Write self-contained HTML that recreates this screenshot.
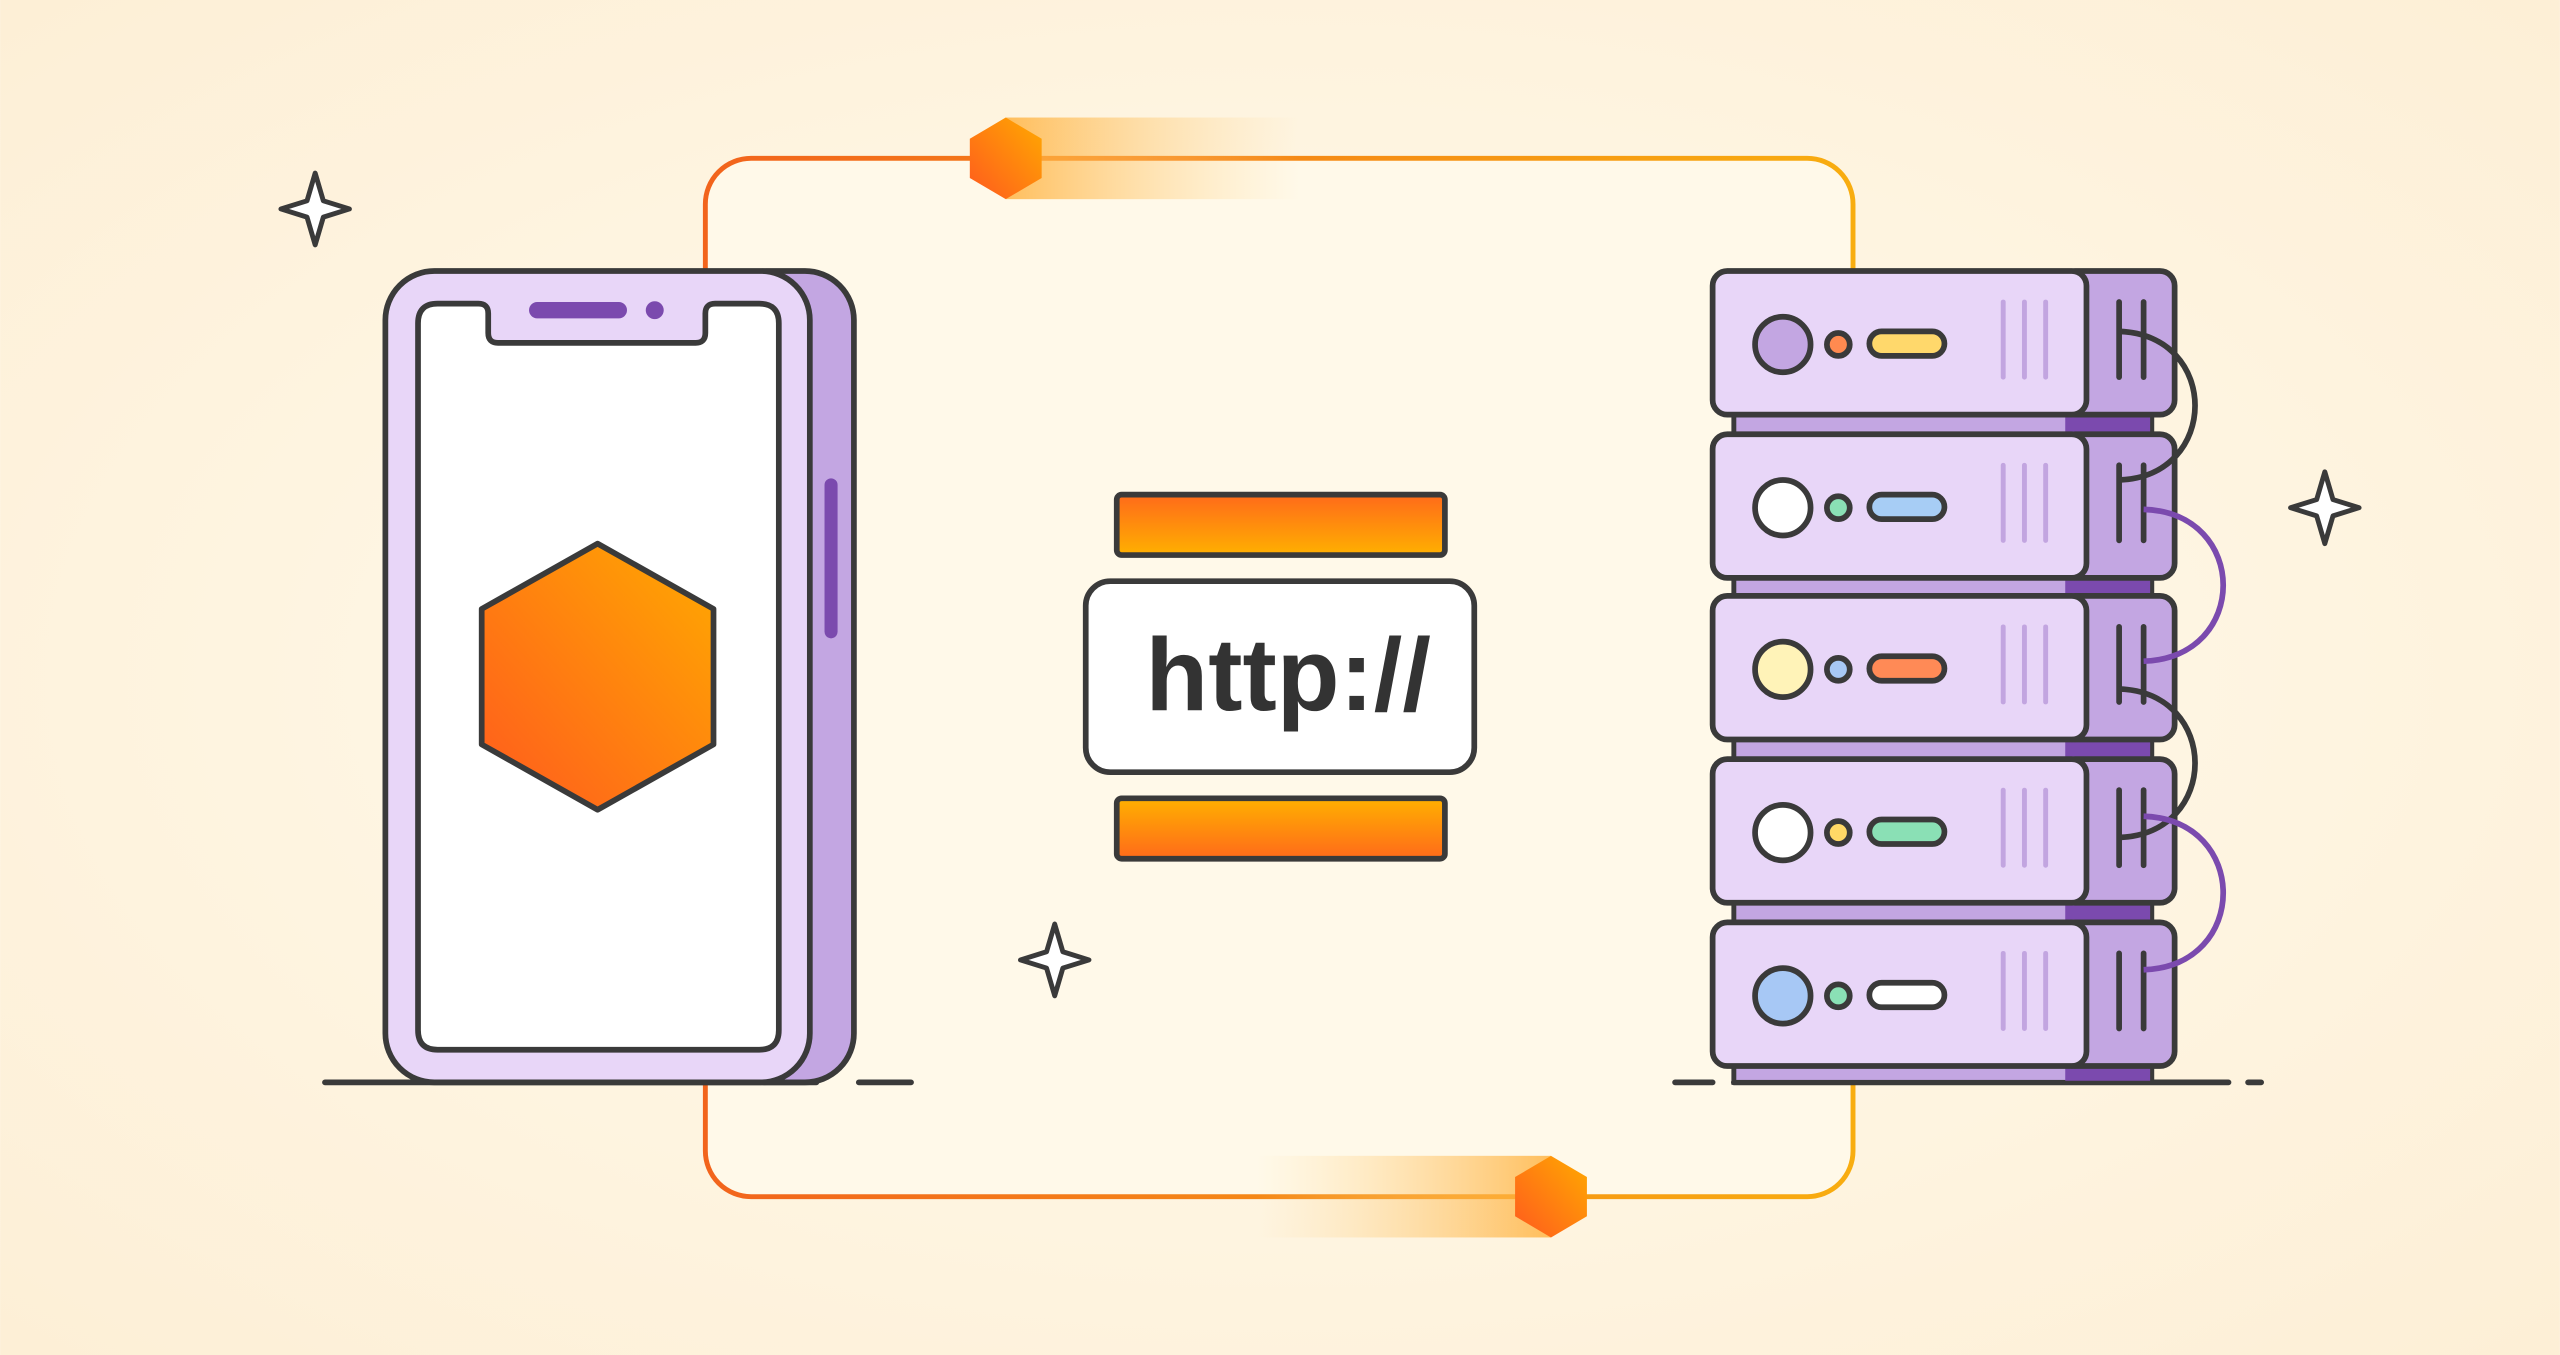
<!DOCTYPE html>
<html><head><meta charset="utf-8"><style>html,body{margin:0;padding:0;width:2560px;height:1355px;overflow:hidden}svg{display:block}</style></head><body>
<svg width="2560" height="1355" viewBox="0 0 1568 830" xmlns="http://www.w3.org/2000/svg">
<defs>
<radialGradient id="bg" cx="50%" cy="50%" r="70%"><stop offset="0" stop-color="#fffbee"/><stop offset="1" stop-color="#fdefd6"/></radialGradient>
<linearGradient id="loop" x1="0" x2="1"><stop offset="0" stop-color="#f2641c"/><stop offset="1" stop-color="#f8ad10"/></linearGradient>
<linearGradient id="hex" x1="0" y1="1" x2="1" y2="0"><stop offset="0" stop-color="#ff5a1e"/><stop offset="1" stop-color="#ffaa00"/></linearGradient>
<linearGradient id="barT" x1="0" y1="0" x2="0" y2="1"><stop offset="0" stop-color="#ff6a1a"/><stop offset="1" stop-color="#ffb000"/></linearGradient>
<linearGradient id="barB" x1="0" y1="0" x2="0" y2="1"><stop offset="0" stop-color="#ffb000"/><stop offset="1" stop-color="#ff6a1a"/></linearGradient>
<linearGradient id="trR" x1="0" x2="1"><stop offset="0" stop-color="#ffb03a" stop-opacity=".8"/><stop offset="1" stop-color="#ffd58a" stop-opacity="0"/></linearGradient>
<linearGradient id="trL" x1="1" x2="0"><stop offset="0" stop-color="#ffb03a" stop-opacity=".8"/><stop offset="1" stop-color="#ffd58a" stop-opacity="0"/></linearGradient>
<g id="star"><path d="M0,-22 L5,-5 L21,0 L5,5 L0,22 L-5,5 L-21,0 L-5,-5Z" fill="#fff" stroke="#3a3a3a" stroke-width="3" stroke-linejoin="round"/></g>
<g id="tok"><polygon points="0,-25 22,-12 22,12 0,25 -22,12 -22,-12" fill="url(#hex)"/></g>
</defs>
<rect width="1568" height="830" fill="url(#bg)"/>
<rect x="432" y="97" width="703" height="636" rx="28" fill="#fff9e9" stroke="url(#loop)" stroke-width="3"/>
<rect x="616" y="72" width="180" height="50" fill="url(#trR)"/>
<use href="#tok" x="616" y="97"/>
<rect x="770" y="708" width="180" height="50" fill="url(#trL)"/>
<use href="#tok" x="950" y="733"/>
<use href="#star" x="193" y="128"/>
<use href="#star" x="1424" y="311"/>
<use href="#star" x="646" y="588"/>
<g stroke="#3a3a3a" stroke-width="3.5" stroke-linecap="round">
<line x1="199" y1="663" x2="500" y2="663"/><line x1="526" y1="663" x2="558" y2="663"/>
<line x1="1026" y1="663" x2="1049" y2="663"/><line x1="1062" y1="663" x2="1365" y2="663"/><line x1="1377" y1="663" x2="1385" y2="663"/>
</g>
<rect x="440" y="166" width="83" height="497" rx="30" fill="#c3a6e2" stroke="#3a3a3a" stroke-width="3.5"/>
<rect x="236" y="166" width="260" height="497" rx="30" fill="#e8d6f8" stroke="#3a3a3a" stroke-width="3.5"/>
<rect x="505" y="293" width="8" height="98" rx="4" fill="#7b4aae"/>
<path d="M268,186 H293 Q299,186 299,192 V204 Q299,210 305,210 H426 Q432,210 432,204 V192 Q432,186 438,186 H465 Q477,186 477,198 V631 Q477,643 465,643 H268 Q256,643 256,631 V198 Q256,186 268,186Z" fill="#fff" stroke="#3a3a3a" stroke-width="3.5"/>
<rect x="324" y="185" width="60" height="10" rx="5" fill="#7b4aae"/>
<circle cx="401" cy="190" r="5.5" fill="#7b4aae"/>
<polygon points="366,333 437,373 437,456 366,496 295,456 295,373" fill="url(#hex)" stroke="#3a3a3a" stroke-width="3.5" stroke-linejoin="round"/>
<rect x="684" y="303" width="201" height="37" rx="3" fill="url(#barT)" stroke="#3a3a3a" stroke-width="3.5"/>
<rect x="684" y="489" width="201" height="37" rx="3" fill="url(#barB)" stroke="#3a3a3a" stroke-width="3.5"/>
<rect x="665" y="356" width="238" height="117" rx="15" fill="#fff" stroke="#3a3a3a" stroke-width="3.5"/>
<text x="789" y="435" text-anchor="middle" font-family="Liberation Sans, sans-serif" font-weight="bold" font-size="63" fill="#333">http://</text>
<g stroke="#3a3a3a" stroke-width="3">
<rect x="1062" y="252" width="256" height="16" fill="#c3a6e2"/>
<rect x="1062" y="352" width="256" height="16" fill="#c3a6e2"/>
<rect x="1062" y="451" width="256" height="16" fill="#c3a6e2"/>
<rect x="1062" y="551" width="256" height="16" fill="#c3a6e2"/>
<rect x="1062" y="651" width="256" height="12" fill="#c3a6e2"/>
</g>
<g fill="#7b4aae"><rect x="1265" y="254" width="52" height="12"/><rect x="1265" y="354" width="52" height="12"/><rect x="1265" y="453" width="52" height="12"/><rect x="1265" y="553" width="52" height="12"/><rect x="1265" y="653" width="52" height="9"/></g>
<g id="u1">
<rect x="1262" y="166" width="70" height="88" rx="9" fill="#c3a6e2" stroke="#3a3a3a" stroke-width="3.5"/>
<rect x="1049" y="166" width="229" height="88" rx="9" fill="#e8d6f8" stroke="#3a3a3a" stroke-width="3.5"/>
<g stroke="#c2a5e0" stroke-width="3" stroke-linecap="round"><line x1="1227" y1="185" x2="1227" y2="231"/><line x1="1240" y1="185" x2="1240" y2="231"/><line x1="1253" y1="185" x2="1253" y2="231"/></g>
<g stroke="#3a3a3a" stroke-width="3.5" stroke-linecap="round"><line x1="1298" y1="185" x2="1298" y2="231"/><line x1="1313" y1="185" x2="1313" y2="231"/></g>
</g>
<use href="#u1" y="100"/><use href="#u1" y="199"/><use href="#u1" y="299"/><use href="#u1" y="399"/>
<g stroke="#3a3a3a" stroke-width="3.5">
<circle cx="1092" cy="211" r="17" fill="#c3a6e2"/><circle cx="1126" cy="211" r="7" fill="#ff8a50"/><rect x="1145" y="203" width="46" height="15" rx="7.5" fill="#ffd86b"/>
<circle cx="1092" cy="311" r="17" fill="#fff"/><circle cx="1126" cy="311" r="7" fill="#8ae0b5"/><rect x="1145" y="303" width="46" height="15" rx="7.5" fill="#a7cdf5"/>
<circle cx="1092" cy="410" r="17" fill="#fff3b8"/><circle cx="1126" cy="410" r="7" fill="#a7c8f5"/><rect x="1145" y="402" width="46" height="15" rx="7.5" fill="#ff8a56"/>
<circle cx="1092" cy="510" r="17" fill="#fff"/><circle cx="1126" cy="510" r="7" fill="#ffd866"/><rect x="1145" y="502" width="46" height="15" rx="7.5" fill="#8ae0b5"/>
<circle cx="1092" cy="610" r="17" fill="#a7c8f5"/><circle cx="1126" cy="610" r="7" fill="#8ae0b5"/><rect x="1145" y="602" width="46" height="15" rx="7.5" fill="#fff"/>
</g>
<g fill="none" stroke-width="3.5">
<path d="M1298,203 C1360,205 1360,292 1298,294" stroke="#3a3a3a"/>
<path d="M1298,422 C1360,424 1360,511 1298,513" stroke="#3a3a3a"/>
<path d="M1313,312 C1378,314 1378,403 1313,405" stroke="#7b4aae"/>
<path d="M1313,500 C1378,502 1378,592 1313,594" stroke="#7b4aae"/>
</g>
</svg>
</body></html>
